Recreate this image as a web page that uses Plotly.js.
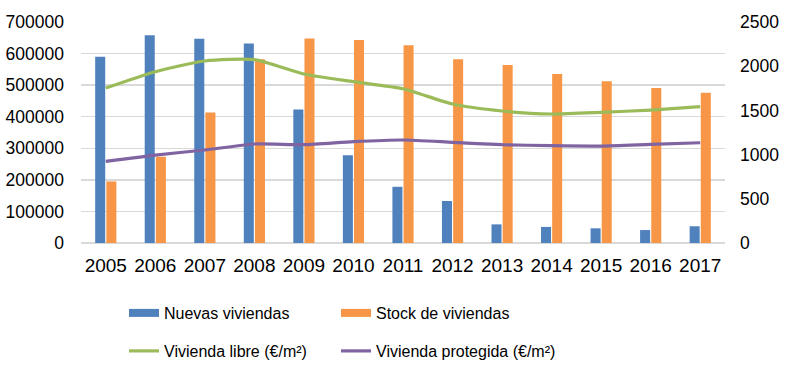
<!DOCTYPE html>
<html>
<head>
<meta charset="utf-8">
<script src="https://cdn.plot.ly/plotly-3.0.1.min.js"></script>
<style>html,body{margin:0;padding:0;background:#fff;}#chart{width:800px;height:365px;}</style>
</head>
<body>
<div id="chart"></div>
<script>
const years = ['2005','2006','2007','2008','2009','2010','2011','2012','2013','2014','2015','2016','2017'];
const nuevasViviendas = [590000, 658000, 647000, 632000, 423000, 278000, 178000, 133000, 59000, 51000, 46500, 41000, 53000];
const stockViviendas = [195000, 273000, 413000, 582000, 648000, 643000, 626000, 582000, 564000, 535000, 512000, 491000, 476000];
const viviendaLibre = [1753, 1938, 2059, 2074, 1912, 1825, 1745, 1572, 1493, 1459, 1478, 1504, 1542];
const viviendaProtegida = [924, 995, 1052, 1120, 1112, 1146, 1165, 1139, 1112, 1101, 1097, 1116, 1134];
const leftTicks = [0, 100000, 200000, 300000, 400000, 500000, 600000, 700000];
const rightTicks = [0, 500, 1000, 1500, 2000, 2500];

const BLUE = '#4F81BD', ORANGE = '#F79646', GREEN = '#9BBB59', PURPLE = '#8064A2';

const traces = [
  {type:'bar', x: years, y: nuevasViviendas, name:'Nuevas viviendas', marker:{color:BLUE, line:{width:0}}, showlegend:false, yaxis:'y'},
  {type:'bar', x: years, y: stockViviendas, name:'Stock de viviendas', marker:{color:ORANGE, line:{width:0}}, showlegend:false, yaxis:'y'},
  {type:'scatter', mode:'lines', x: years, y: viviendaLibre, name:'Vivienda libre (€/m²)', line:{color:GREEN, width:3.2, shape:'spline', smoothing:0.6}, yaxis:'y2', legend:'legend3'},
  {type:'scatter', mode:'lines', x: years, y: viviendaProtegida, name:'Vivienda protegida (€/m²)', line:{color:PURPLE, width:3.2, shape:'spline', smoothing:0.6}, yaxis:'y2', legend:'legend4'},
  // legend swatches for the bar series (wide rectangles as in the reference)
  {type:'scatter', mode:'lines', x:[null], y:[null], name:'Nuevas viviendas', line:{color:BLUE, width:8}, legend:'legend', hoverinfo:'skip'},
  {type:'scatter', mode:'lines', x:[null], y:[null], name:'Stock de viviendas', line:{color:ORANGE, width:8}, legend:'legend2', hoverinfo:'skip'}
];

const FONT = 'Liberation Sans, Arial, sans-serif';

function leg(x, y) {
  return {
    xref: 'container', yref: 'container',
    x: x, xanchor: 'left', y: y, yanchor: 'middle',
    font: {size: 16, family: FONT, color:'#000'},
    itemwidth: 30, bgcolor: 'rgba(0,0,0,0)', borderwidth: 0
  };
}

const layout = {
  width: 800, height: 365,
  margin: {l: 81, r: 75, t: 22, b: 122, autoexpand: false},
  paper_bgcolor: '#fff', plot_bgcolor: '#fff',
  font: {family: FONT, color: '#000'},
  barmode: 'group',
  bargap: 0.55,
  bargroupgap: 0.1,
  xaxis: {
    type: 'category', showgrid: false, zeroline: false,
    showline: false, ticks: '',
    tickfont: {size: 19, family: FONT, color:'#000'},
    ticklabelstandoff: 9,
    fixedrange: true
  },
  yaxis: {
    range: [0, 700000], tickvals: leftTicks, ticktext: leftTicks.map(String),
    showgrid: true, gridcolor: '#D9D9D9', gridwidth: 1.5,
    zeroline: true, zerolinecolor: '#D9D9D9', zerolinewidth: 1.5,
    showline: false, ticks: '',
    tickfont: {size: 17.5, family: FONT, color:'#000'},
    ticklabelstandoff: 16,
    fixedrange: true
  },
  yaxis2: {
    range: [0, 2500], tickvals: rightTicks, ticktext: rightTicks.map(String),
    overlaying: 'y', side: 'right',
    showgrid: false, zeroline: false, showline: false, ticks: '',
    tickfont: {size: 17.5, family: FONT, color:'#000'},
    ticklabelstandoff: 14,
    fixedrange: true
  },
  showlegend: true,
  legend: leg(124/800, 1 - 313/365),
  legend2: leg(336/800, 1 - 313/365),
  legend3: leg(124/800, 1 - 351/365),
  legend4: leg(336/800, 1 - 351/365)
};

Plotly.newPlot('chart', traces, layout, {displayModeBar: false, staticPlot: true});
</script>
</body>
</html>
